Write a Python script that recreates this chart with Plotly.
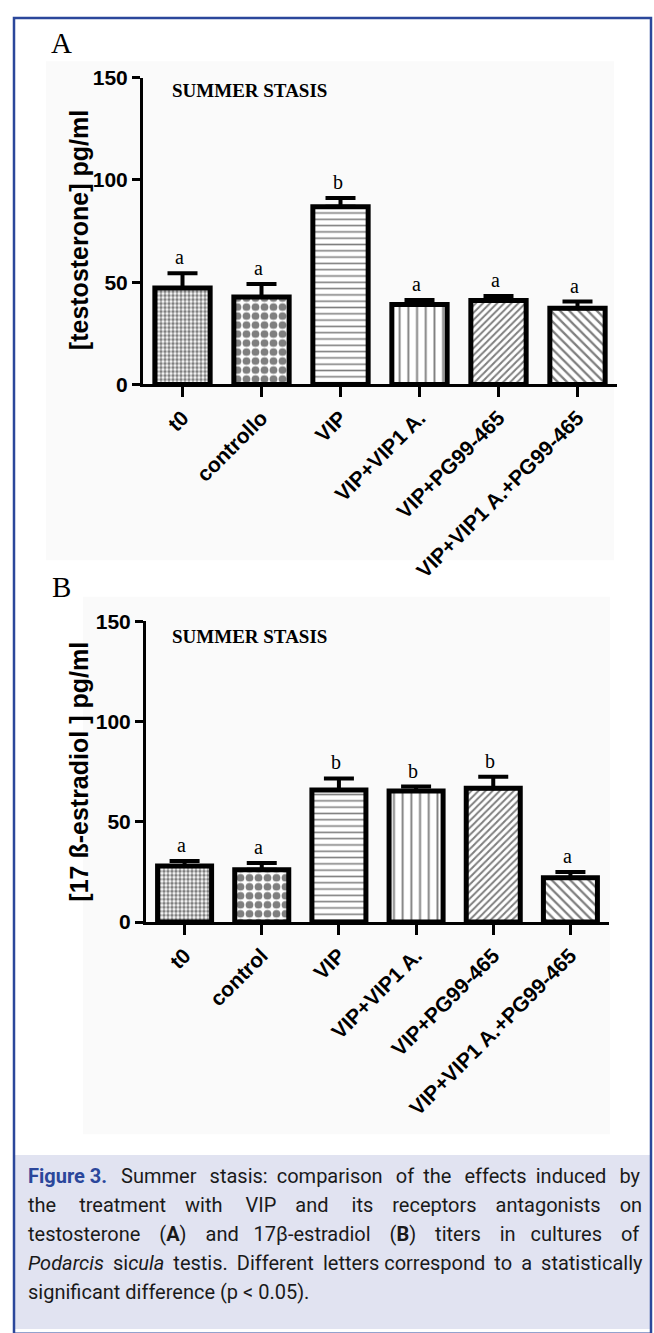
import plotly.graph_objects as go

# ---------------- data ----------------
categories_A = ["t0", "controllo", "VIP", "VIP+VIP1 A.", "VIP+PG99-465", "VIP+VIP1 A.+PG99-465"]
categories_B = ["t0", "control", "VIP", "VIP+VIP1 A.", "VIP+PG99-465", "VIP+VIP1 A.+PG99-465"]
testosterone_mean = [47.1, 42.7, 86.9, 39.1, 41.0, 37.3]
testosterone_sem = [7.3, 6.4, 4.2, 2.2, 2.2, 3.2]
estradiol_mean = [27.9, 26.1, 65.8, 65.4, 66.7, 22.1]
estradiol_sem = [2.5, 3.3, 5.8, 2.2, 5.7, 2.9]
letters_A = ["a", "a", "b", "a", "a", "a"]
letters_B = ["a", "a", "b", "b", "b", "a"]
y_ticks = [0, 50, 100, 150]
y_title_A = "[testosterone] pg/ml"
y_title_B = "[17 ß-estradiol ] pg/ml"
panel_title = "SUMMER STASIS"

# ---------------- styles ----------------
W, H = 654, 1333
pat_shape = [".", ".", "-", "|", "/", "\\"]
pat_size = [4, 9, 6.3, 8.7, 5, 6.5]
pat_solid = [0.6, 0.58, 0.25, 0.22, 0.4, 0.35]
BLUE = "#2b479b"
SANS = "Liberation Sans, Arial, sans-serif"
SERIF = "Liberation Serif, Times New Roman, serif"


def px(xp):
    return xp / W


def py(yp):
    return 1 - yp / H


fig = go.Figure()


def add_panel(cats, means, sems, xa, ya):
    fig.add_trace(go.Bar(
        x=cats, y=means, width=0.7, xaxis=xa, yaxis=ya,
        marker=dict(color="white", line=dict(color="black", width=5),
                    pattern=dict(shape=pat_shape, size=pat_size, solidity=pat_solid,
                                 fgcolor="black", bgcolor="white", fillmode="overlay")),
        error_y=dict(type="data", symmetric=False, array=sems, arrayminus=[0] * len(sems),
                     color="black", thickness=4, width=15),
        showlegend=False, hoverinfo="skip",
    ))


add_panel(categories_A, testosterone_mean, testosterone_sem, "x", "y")
add_panel(categories_B, estradiol_mean, estradiol_sem, "x2", "y2")

axis_common = dict(showline=True, linecolor="black", linewidth=3, ticks="outside",
                   tickcolor="black", tickwidth=3, showgrid=False, zeroline=False,
                   fixedrange=True)
xfont = dict(family=SANS, size=21, color="black", weight="bold")
yfont = dict(family=SANS, size=21, color="black", weight="bold")

fig.update_layout(
    width=W, height=H, margin=dict(l=0, r=0, t=0, b=0),
    paper_bgcolor="white", plot_bgcolor="rgba(0,0,0,0)",
    xaxis=dict(domain=[px(143), px(617)], anchor="y", range=[-0.5, 5.5], ticklen=10,
               tickangle=-45, tickfont=xfont, **axis_common),
    yaxis=dict(domain=[py(379), py(66.7)], anchor="x", range=[0, 150], tickvals=y_ticks,
               ticklen=8, tickfont=yfont, **axis_common),
    xaxis2=dict(domain=[px(146), px(609)], anchor="y2", range=[-0.5, 5.5], ticklen=10,
                tickangle=-45, tickfont=xfont, **axis_common),
    yaxis2=dict(domain=[py(926), py(620)], anchor="x2", range=[0, 150], tickvals=y_ticks,
                ticklen=8, tickfont=yfont, **axis_common),
)

# ---------------- shapes: frame, caption box, faint image backgrounds ----------------
shapes = [
    dict(type="rect", xref="paper", yref="paper", x0=px(46), x1=px(614), y0=py(558), y1=py(50),
         fillcolor="#fafafa", line=dict(width=0), layer="below"),
    dict(type="rect", xref="paper", yref="paper", x0=px(83), x1=px(610), y0=py(1142), y1=py(595),
         fillcolor="#fafafa", line=dict(width=0), layer="below"),
    dict(type="rect", xref="paper", yref="paper", x0=px(14), x1=px(651), y0=py(1340), y1=py(1163),
         fillcolor="#e1e3f1", line=dict(width=0), layer="below"),
    dict(type="rect", xref="paper", yref="paper", x0=px(14), x1=px(651), y0=py(1345), y1=py(6),
         fillcolor="rgba(0,0,0,0)", line=dict(color=BLUE, width=2.5), layer="above"),
]
fig.update_layout(shapes=shapes)

# ---------------- annotations ----------------
ann = []
for cats, means, sems, letters, xr, yr in [
    (categories_A, testosterone_mean, testosterone_sem, letters_A, "x", "y"),
    (categories_B, estradiol_mean, estradiol_sem, letters_B, "x2", "y2"),
]:
    for c, m, s, l in zip(cats, means, sems, letters):
        ann.append(dict(x=c, y=m + s, xref=xr, yref=yr, text=l, showarrow=False,
                        xanchor="center", yanchor="middle", yshift=16, xshift=-3,
                        font=dict(family=SERIF, size=20, color="black")))

# panel letters
for lab, yy in [("A", 32), ("B", 585)]:
    ann.append(dict(x=px(61), y=py(yy), xref="paper", yref="paper", text=lab, showarrow=False,
                    xanchor="center", yanchor="middle",
                    font=dict(family=SERIF, size=29, color="black")))
# panel titles
for yy in [80, 635]:
    ann.append(dict(x=px(170), y=py(yy), xref="paper", yref="paper", text="<b>" + panel_title + "</b>",
                    showarrow=False, xanchor="left", yanchor="middle",
                    font=dict(family=SERIF, size=19, color="black")))
# y titles
for t, yy in [(y_title_A, 222), (y_title_B, 773)]:
    ann.append(dict(x=px(79), y=py(yy), xref="paper", yref="paper", text=t, textangle=-90,
                    showarrow=False, xanchor="center", yanchor="middle",
                    font=dict(family=SANS, size=25, color="black", weight="bold")))

# caption (justified with extra spaces)
NB = "\u00a0"
TH = "\u2009"


def just(words, extras):
    out = words[0]
    for w, e in zip(words[1:], extras):
        out += " " + e + w
    return out


caption_lines = [
    "<span style='color:" + BLUE + "'><b>Figure" + NB + "3.</b></span>" + NB + TH + " "
    + just("Summer stasis: comparison of the effects induced by".split(" "),
           [TH * 2, TH, TH * 2, TH, TH * 2, TH, TH * 2, TH * 2]),
    just("the treatment with VIP and its receptors antagonists on".split(" "),
         [NB * 2 + TH * 2, NB * 2 + TH, NB * 2 + TH * 2, NB * 2 + TH, NB * 2 + TH * 2,
          NB * 2 + TH, NB * 2 + TH, NB * 2 + TH]),
    just("testosterone (<b>A</b>) and 17β-estradiol (<b>B</b>) titers in cultures of".split(" "),
         [NB * 2 + TH, NB * 2 + TH, NB * 2, NB * 2 + TH, NB * 2 + TH, NB * 2 + TH, NB * 2, NB * 2 + TH]),
    just("<i>Podarcis</i> si<i>cula</i> testis. Different letters correspond to a statistically".split(" "),
         [TH, TH, TH, TH, "", TH, TH, TH]),
    "significant difference (p < 0.05).",
]
for i, line in enumerate(caption_lines):
    ann.append(dict(x=px(26), y=py(1184 + 29.5 * i), xref="paper", yref="paper", text=line,
                    showarrow=False, xanchor="left", yanchor="middle",
                    font=dict(family="Roboto", size=20, color="#1a1a1a")))

fig.update_layout(annotations=ann)
fig.write_html("out.html")
